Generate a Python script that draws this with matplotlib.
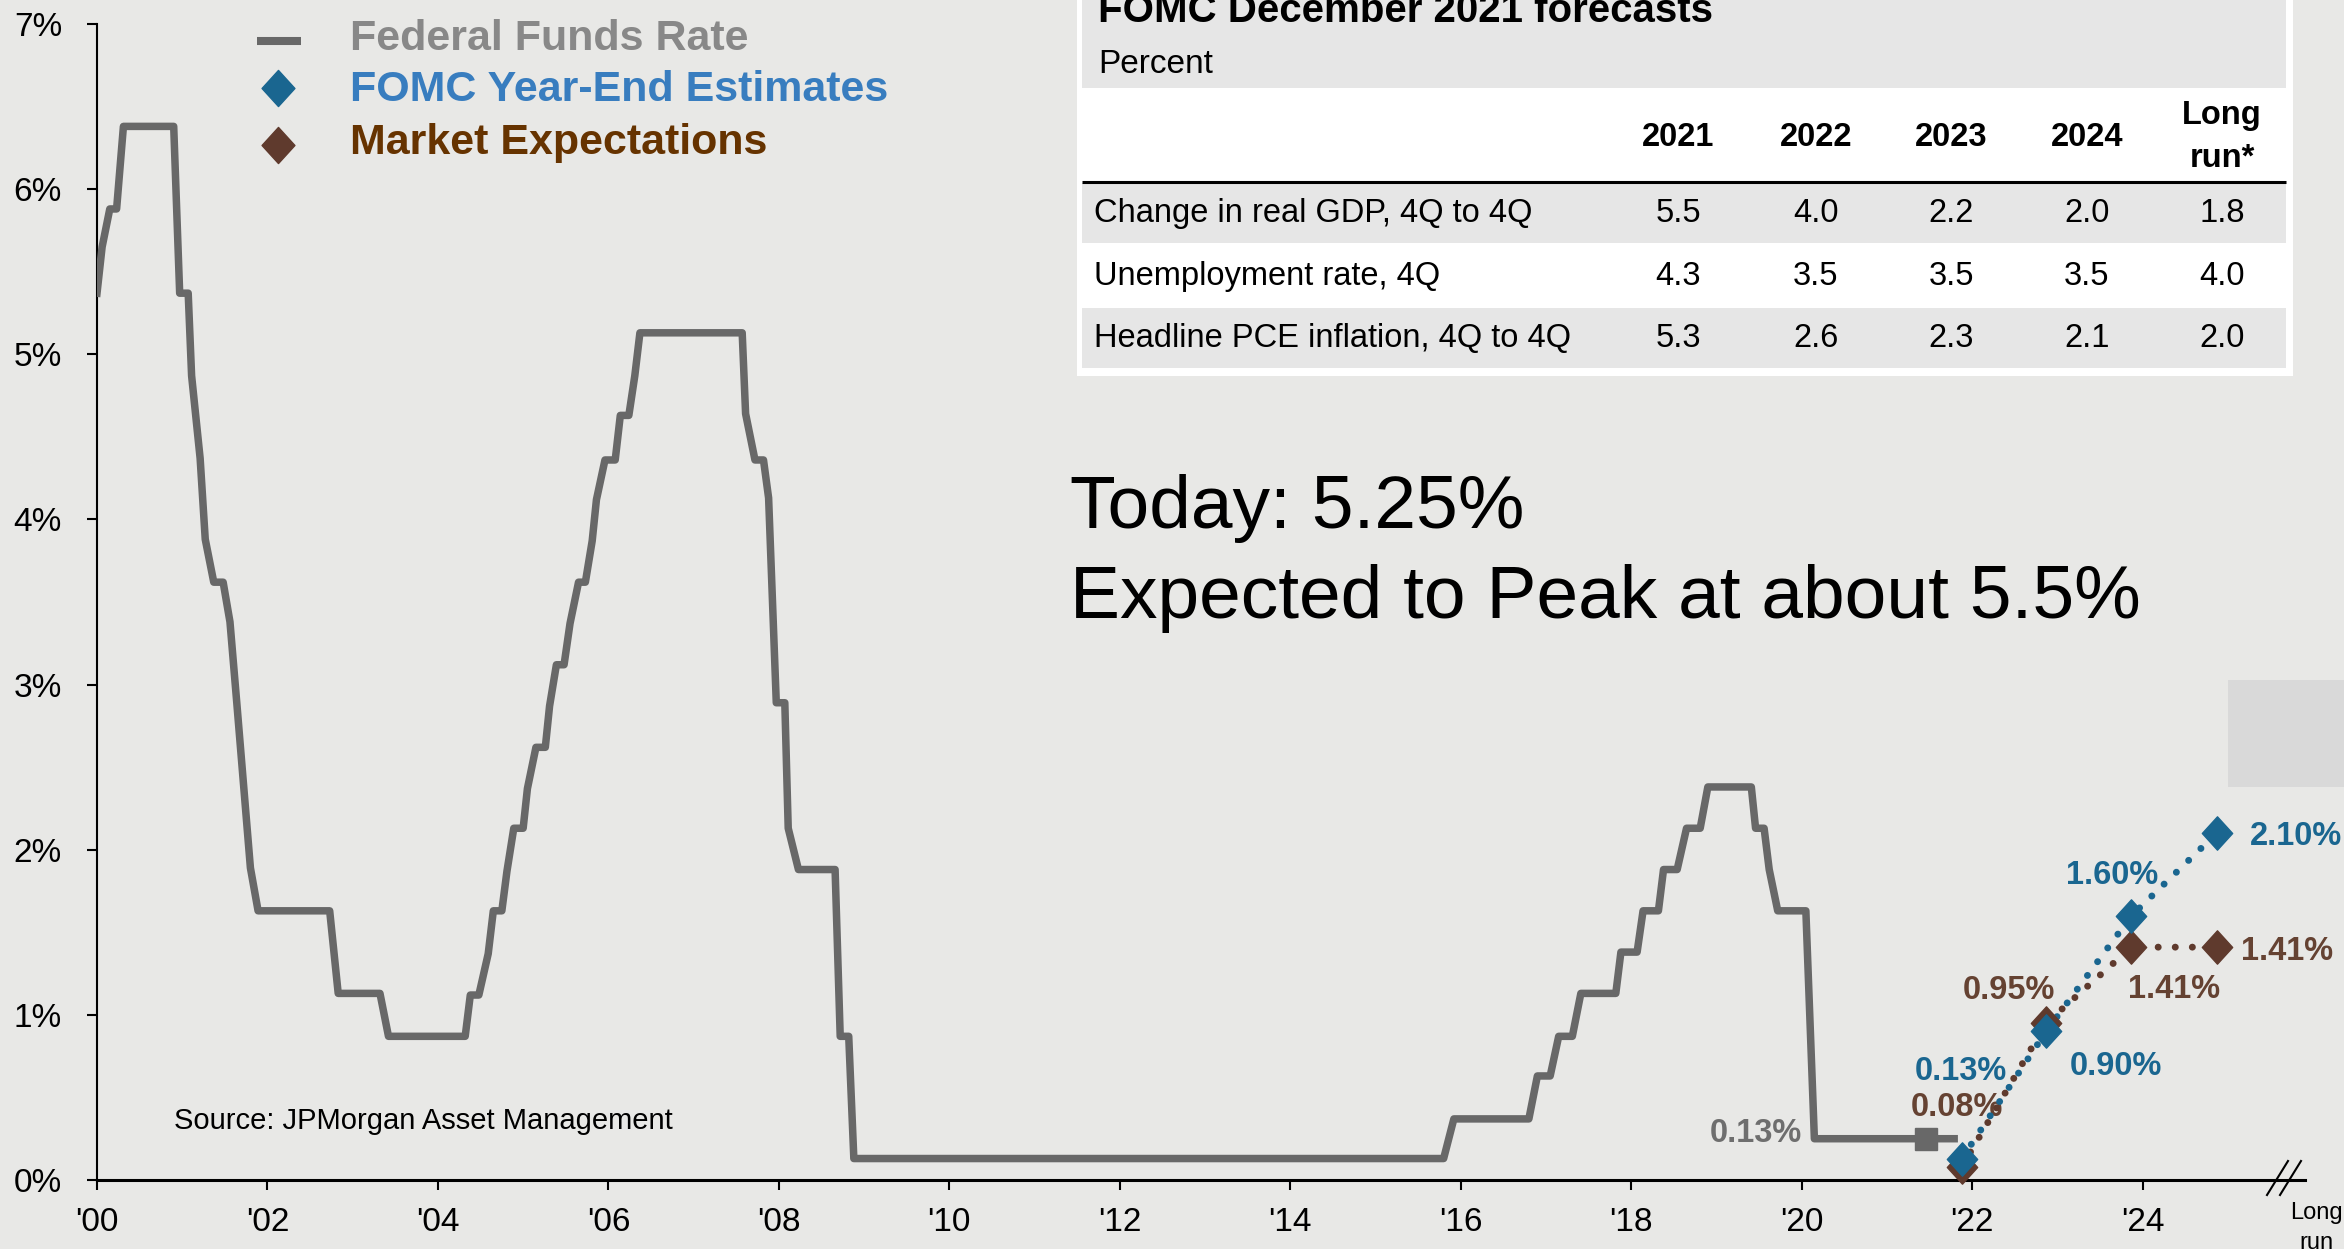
import matplotlib.pyplot as plt
from matplotlib.patches import Rectangle
from matplotlib.path import Path

plt.rcParams['font.family'] = ['Liberation Sans', 'DejaVu Sans']

# Federal funds rate path (decimal year, percent)
ffr_years = [
    2000.00, 2000.06, 2000.15, 2000.23, 2000.31, 2000.90, 2000.97, 2001.07,
    2001.11, 2001.21, 2001.27, 2001.37, 2001.48, 2001.56, 2001.64, 2001.72,
    2001.80, 2001.89, 2002.73, 2002.83, 2003.32, 2003.42, 2004.32, 2004.38,
    2004.48, 2004.59, 2004.65, 2004.75, 2004.81, 2004.89, 2005.00, 2005.05,
    2005.15, 2005.26, 2005.31, 2005.39, 2005.48, 2005.55, 2005.65, 2005.73,
    2005.81, 2005.86, 2005.96, 2006.08, 2006.14, 2006.24, 2006.31, 2006.37,
    2007.57, 2007.61, 2007.72, 2007.82, 2007.88, 2007.97, 2008.07, 2008.11,
    2008.23, 2008.66, 2008.72, 2008.82, 2008.88, 2015.80, 2015.92, 2016.80,
    2016.90, 2017.05, 2017.15, 2017.31, 2017.41, 2017.82, 2017.88, 2018.07,
    2018.14, 2018.32, 2018.38, 2018.54, 2018.65, 2018.81, 2018.90, 2019.41,
    2019.46, 2019.56, 2019.62, 2019.72, 2020.05, 2020.15, 2021.79,
]
ffr_rates = [
    5.37, 5.65, 5.88, 5.88, 6.38, 6.38, 5.37, 5.37,
    4.87, 4.37, 3.88, 3.62, 3.62, 3.38, 2.89, 2.39,
    1.89, 1.63, 1.63, 1.13, 1.13, 0.87, 0.87, 1.12,
    1.12, 1.37, 1.63, 1.63, 1.87, 2.13, 2.13, 2.37,
    2.62, 2.62, 2.87, 3.12, 3.12, 3.37, 3.62, 3.62,
    3.87, 4.12, 4.36, 4.36, 4.63, 4.63, 4.87, 5.13,
    5.13, 4.64, 4.36, 4.36, 4.13, 2.89, 2.89, 2.13,
    1.88, 1.88, 0.87, 0.87, 0.13, 0.13, 0.37, 0.37,
    0.63, 0.63, 0.87, 0.87, 1.13, 1.13, 1.38, 1.38,
    1.63, 1.63, 1.88, 1.88, 2.13, 2.13, 2.38, 2.38,
    2.13, 2.13, 1.88, 1.63, 1.63, 0.25, 0.25,
]
ffr_today_year = 2021.46
ffr_today_rate = 0.25
ffr_label = "0.13%"

# year-end projections
proj_years = [2021.88, 2022.87, 2023.87, 2024.87]
fomc_est = [0.13, 0.90, 1.60, 2.10]
market_exp = [0.08, 0.95, 1.41, 1.41]

x_ticks = list(range(2000, 2025, 2))
x_tick_labels = ["'00", "'02", "'04", "'06", "'08", "'10", "'12",
                 "'14", "'16", "'18", "'20", "'22", "'24"]
y_ticks = [0, 1, 2, 3, 4, 5, 6, 7]

# FOMC December 2021 table
table_cols = ["2021", "2022", "2023", "2024", "Long\nrun*"]
table_rows = ["Change in real GDP, 4Q to 4Q", "Unemployment rate, 4Q",
              "Headline PCE inflation, 4Q to 4Q"]
gdp = [5.5, 4.0, 2.2, 2.0, 1.8]
unemployment = [4.3, 3.5, 3.5, 3.5, 4.0]
pce = [5.3, 2.6, 2.3, 2.1, 2.0]

BG = "#e8e8e6"
GRAY = "#686868"
BLUE = "#1a6690"
BROWN = "#5f3a2d"
BROWN_TXT = "#654232"
BAND = "#e6e6e6"

W, H = 2344, 1249
PX_PER_YEAR = 85.23

# tall diamond marker
diamond = Path([(-0.91, 0), (0, 1), (0.91, 0), (0, -1), (-0.91, 0)],
               [Path.MOVETO, Path.LINETO, Path.LINETO, Path.LINETO, Path.CLOSEPOLY])

fig = plt.figure(figsize=(W / 100, H / 100), dpi=100, facecolor=BG)
ax = fig.add_axes([97 / W, 1 - 1180 / H, (2305 - 97) / W, (1180 - 24) / H])
ax.set_facecolor("none")
ax.set_xlim(2000, 2000 + (2305 - 97) / PX_PER_YEAR)
ax.set_ylim(0, 7)

for side in ["top", "right"]:
    ax.spines[side].set_visible(False)
ax.spines["left"].set_linewidth(1.5)
ax.spines["bottom"].set_linewidth(2.2)

ax.set_xticks(x_ticks)
ax.set_xticklabels(x_tick_labels)
ax.set_yticks(y_ticks)
ax.set_yticklabels([f"{v}%" for v in y_ticks])
ax.tick_params(axis="y", length=7.2, width=1.5, pad=18, labelsize=24)
ax.tick_params(axis="x", length=7.2, width=1.5, pad=12, labelsize=24)

# fed funds rate
ax.plot(ffr_years, ffr_rates, color=GRAY, lw=5.4, solid_joinstyle="round", zorder=3)
ax.plot(ffr_today_year, ffr_today_rate, marker="s", ms=16.5, color=GRAY, zorder=3)
ax.annotate(ffr_label, xy=(ffr_years[-2], ffr_rates[-1]), xytext=(-9, 4),
            textcoords="offset points", ha="right", va="center",
            fontsize=23.5, fontweight="bold", color="#6e6e6e")

# projections
dots = (0, (0.01, 2.45))
ax.plot(proj_years, fomc_est, color=BLUE, lw=5, ls=dots, dash_capstyle="round",
        zorder=4, clip_on=False)
ax.plot(proj_years, market_exp, color=BROWN, lw=5, ls=dots, dash_capstyle="round",
        zorder=4, clip_on=False)
ax.plot(proj_years, market_exp, ls="none", marker=diamond, ms=24, color=BROWN,
        zorder=5, clip_on=False)
ax.plot(proj_years, fomc_est, ls="none", marker=diamond, ms=24, color=BLUE,
        zorder=6, clip_on=False)

fomc_offsets = [(-1, 63, "center"), (50, -25, "center"),
                (-13.6, 29.3, "center"), (23.8, -2.7, "left")]
market_offsets = [(-3.2, 43, "center"), (-26.7, 23.8, "center"),
                  (31, -30.7, "center"), (17.8, -2.8, "left")]
for x, v, (dx, dy, ha) in zip(proj_years, fomc_est, fomc_offsets):
    ax.annotate(f"{v:.2f}%", xy=(x, v), xytext=(dx, dy), textcoords="offset points",
                ha=ha, va="center", fontsize=23.5, fontweight="bold", color=BLUE)
for x, v, (dx, dy, ha) in zip(proj_years, market_exp, market_offsets):
    ax.annotate(f"{v:.2f}%", xy=(x, v), xytext=(dx, dy), textcoords="offset points",
                ha=ha, va="center", fontsize=23.5, fontweight="bold", color=BROWN_TXT)

# overlay in pixel coordinates (origin top-left) for legend, table and notes
ov = fig.add_axes([0, 0, 1, 1])
ov.set_xlim(0, W)
ov.set_ylim(H, 0)
ov.axis("off")

# axis break and long-run label
ov.plot([2267, 2288], [1195, 1161], color="black", lw=1.5)
ov.plot([2280, 2301], [1195, 1161], color="black", lw=1.5)
ov.text(2316, 1213, "Long", fontsize=17, ha="center", va="center")
ov.text(2316, 1243, "run", fontsize=17, ha="center", va="center")

# legend
ov.plot([257, 301], [41, 41], color=GRAY, lw=5.8, solid_capstyle="butt")
ov.plot(277.5, 88, marker=diamond, ms=26, color=BLUE)
ov.plot(278, 145, marker=diamond, ms=26, color=BROWN)
leg_font = dict(fontsize=31, fontweight="bold", va="center")
ov.text(350, 39, "Federal Funds Rate", color="#888888", **leg_font)
ov.text(350, 90, "FOMC Year-End Estimates", color="#387dbf", **leg_font)
ov.text(350, 143, "Market Expectations", color="#663300", **leg_font)

# table
ov.add_patch(Rectangle((1077, -5), 2293 - 1077, 381, fc="white", ec="none"))
ov.add_patch(Rectangle((1082, -5), 2286 - 1082, 93, fc=BAND, ec="none"))
ov.add_patch(Rectangle((1082, 183), 2286 - 1082, 60, fc=BAND, ec="none"))
ov.add_patch(Rectangle((1082, 308), 2286 - 1082, 60, fc=BAND, ec="none"))
ov.plot([1082, 2286], [181.5, 181.5], color="black", lw=2.2, solid_capstyle="butt")
ov.text(1098, 22, "FOMC December 2021 forecasts", fontsize=29, fontweight="bold",
        va="baseline")
ov.text(1098, 64, "Percent", fontsize=24, va="center")

col_x = [1678, 1815.7, 1951.4, 2087, 2222]
for cx, label in zip(col_x, table_cols):
    lines = label.split("\n")
    if len(lines) == 1:
        ov.text(cx, 137, lines[0], fontsize=23.5, fontweight="bold",
                ha="center", va="center")
    else:
        ov.text(cx, 115, lines[0], fontsize=23.5, fontweight="bold",
                ha="center", va="center")
        ov.text(cx, 158, lines[1], fontsize=23.5, fontweight="bold",
                ha="center", va="center")

row_y = [213, 276, 338]
for ry, name, vals in zip(row_y, table_rows, [gdp, unemployment, pce]):
    ov.text(1094, ry, name, fontsize=23.5, va="center")
    for cx, v in zip(col_x, vals):
        ov.text(cx, ry, f"{v:.1f}", fontsize=23.5, ha="center", va="center")

# right-edge shaded box
ov.add_patch(Rectangle((2228, 680), 120, 107, fc="#d9d9d9", ec="none"))

# headline and source
ov.text(1070, 508, "Today: 5.25%", fontsize=54, va="center")
ov.text(1070, 598, "Expected to Peak at about 5.5%", fontsize=54, va="center")
ov.text(174, 1121, "Source: JPMorgan Asset Management", fontsize=21, va="center")

fig.savefig("out.png", dpi=100, facecolor=BG)
